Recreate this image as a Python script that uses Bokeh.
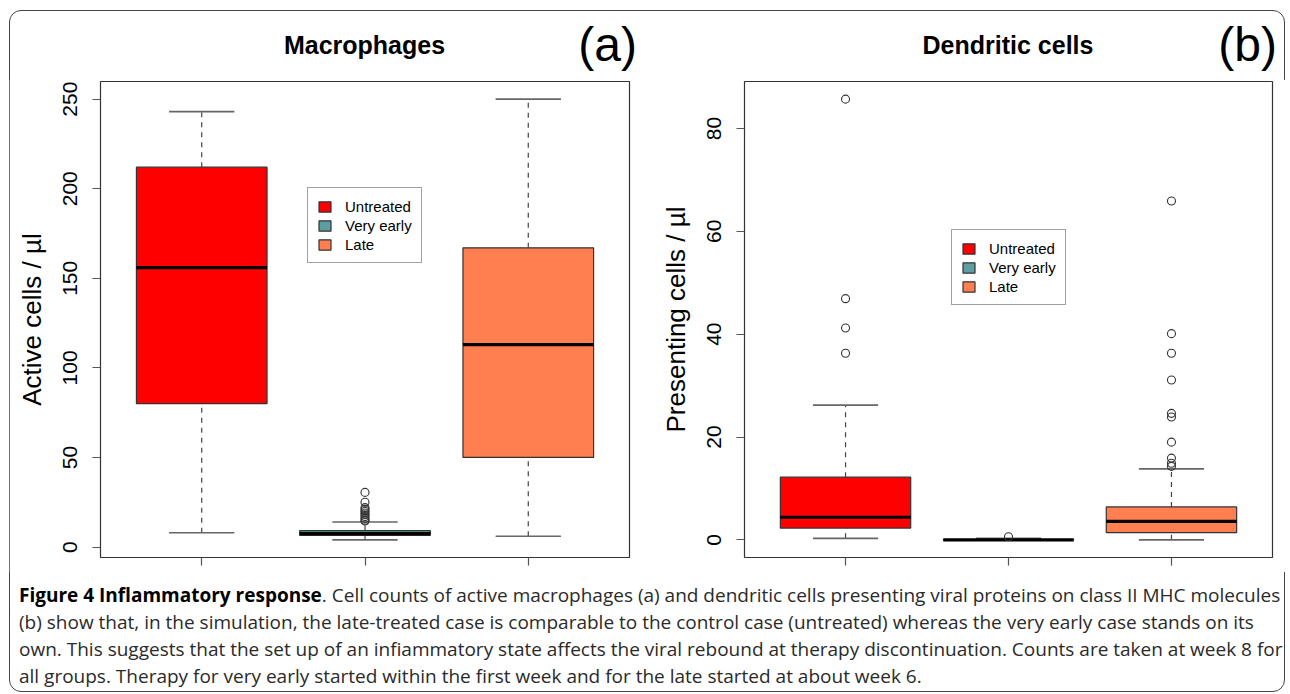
from bokeh.plotting import figure
from bokeh.models import Range1d, Legend, LegendItem, FixedTicker, Div
from bokeh.layouts import row, column
from bokeh.embed import file_html
from bokeh.resources import INLINE

groups = ["Untreated", "Very early", "Late"]
box_colors = ["#FF0000", "#5F9EA0", "#FF7F50"]

# Panel (a): Macrophages - active cells / µl
mac_low = [8, 4, 6]
mac_q1 = [80, 6.5, 50]
mac_median = [156, 7.5, 113]
mac_q3 = [212, 9.2, 167]
mac_high = [243, 14, 250]
mac_out_untreated = []
mac_out_very_early = [14.5, 15, 16, 17, 18, 19, 20, 21, 22, 25, 30.5]
mac_out_late = []
mac_ticks = [0, 50, 100, 150, 200, 250]

# Panel (b): Dendritic cells - presenting cells / µl
dc_low = [0.3, 0, 0]
dc_q1 = [2.3, 0, 1.4]
dc_median = [4.4, 0, 3.6]
dc_q3 = [12.2, 0.05, 6.4]
dc_high = [26.2, 0.3, 13.8]
dc_out_untreated = [85.7, 46.9, 41.2, 36.3]
dc_out_very_early = [0.6]
dc_out_late = [65.9, 40.1, 36.3, 31.1, 24.6, 23.9, 19, 15.9, 14.9, 14.3]
dc_ticks = [0, 20, 40, 60, 80]

panel_titles = ["Macrophages", "Dendritic cells"]
panel_tags = ["(a)", "(b)"]

caption_lines = [
    "Cell counts of active macrophages (a) and dendritic cells presenting viral proteins on class II MHC molecules",
    "(b) show that, in the simulation, the late-treated case is comparable to the control case (untreated) whereas the very early case stands on its",
    "own. This suggests that the set up of an infiammatory state affects the viral rebound at therapy discontinuation. Counts are taken at week 8 for",
    "all groups. Therapy for very early started within the first week and for the late started at about week 6.",
]

FONT = "Liberation Sans"
BOX_H = 476
LEFT_B = 91


def panel(ylabel, low, q1, med, q3, high, outliers, ticks,
          box_w, border_right, legend_xy):
    n = len(groups)
    xs = list(range(1, n + 1))
    allv = low + high + [v for o in outliers for v in o]
    lo, hi = min(allv), max(allv)
    pad = 0.04 * (hi - lo)
    y0, y1 = lo - pad, hi + pad
    x0, x1 = 0.5 - 0.04 * n, n + 0.5 + 0.04 * n

    p = figure(frame_width=box_w, frame_height=BOX_H,
               x_range=Range1d(x0, x1), y_range=Range1d(y0, y1),
               output_backend="svg", toolbar_location=None,
               min_border_left=LEFT_B, min_border_right=border_right,
               min_border_top=2, min_border_bottom=15,
               outline_line_color="#333333", outline_line_width=1.2,
               background_fill_color="white", border_fill_color="white")
    p.xgrid.visible = False
    p.ygrid.visible = False

    # whiskers
    p.segment(x0=xs, y0=q3, x1=xs, y1=high, line_color="#444444",
              line_width=1.2, line_dash="5 5")
    p.segment(x0=xs, y0=low, x1=xs, y1=q1, line_color="#444444",
              line_width=1.2, line_dash="5 5")
    # staples
    p.segment(x0=[x - 0.2 for x in xs], y0=high, x1=[x + 0.2 for x in xs], y1=high,
              line_color="#666666", line_width=1.6)
    p.segment(x0=[x - 0.2 for x in xs], y0=low, x1=[x + 0.2 for x in xs], y1=low,
              line_color="#666666", line_width=1.6)
    # boxes
    boxes = p.quad(left=[x - 0.4 for x in xs], right=[x + 0.4 for x in xs],
                   bottom=q1, top=q3, fill_color=box_colors,
                   line_color="#333333", line_width=1.2)
    # medians
    p.segment(x0=[x - 0.4 for x in xs], y0=med, x1=[x + 0.4 for x in xs], y1=med,
              line_color="black", line_width=3.2)
    # outliers
    ox = [x for x, o in zip(xs, outliers) for _ in o]
    oy = [v for o in outliers for v in o]
    p.scatter(x=ox, y=oy, marker="circle", size=8, fill_color=None,
              line_color="#333333", line_width=1.1)

    # axes
    p.xaxis.ticker = FixedTicker(ticks=xs)
    p.xaxis.major_label_overrides = {x: "" for x in xs}
    p.xaxis.major_label_standoff = 0
    p.yaxis.ticker = FixedTicker(ticks=ticks)
    for ax in (p.xaxis[0], p.yaxis[0]):
        ax.axis_line_color = None
        ax.major_tick_line_color = "#555555"
        ax.major_tick_line_width = 1.2
        ax.major_tick_out = 8
        ax.major_tick_in = 0
        ax.minor_tick_line_color = None
    p.yaxis.major_label_orientation = "vertical"
    p.yaxis.major_label_text_font = FONT
    p.yaxis.major_label_text_font_size = "21px"
    p.yaxis.major_label_text_color = "black"
    p.yaxis.major_label_standoff = 15
    p.yaxis.axis_label = ylabel
    p.yaxis.axis_label_text_font = FONT
    p.yaxis.axis_label_text_font_size = "26px"
    p.yaxis.axis_label_text_font_style = "normal"
    p.yaxis.axis_label_text_color = "black"
    p.yaxis.axis_label_standoff = 14

    # legend
    items = [LegendItem(label=g, renderers=[boxes], index=i) for i, g in enumerate(groups)]
    legend = Legend(items=items, location=legend_xy,
                    label_text_font=FONT, label_text_font_size="15px",
                    label_text_color="black",
                    glyph_width=15, glyph_height=13, label_height=18,
                    label_standoff=13, spacing=1, padding=9, margin=0,
                    border_line_color="#444444", border_line_width=1.2,
                    background_fill_color="white", background_fill_alpha=1)
    p.add_layout(legend)
    return p


left = panel("Active cells / µl",
             mac_low, mac_q1, mac_median, mac_q3, mac_high,
             [mac_out_untreated, mac_out_very_early, mac_out_late], mac_ticks,
             box_w=529, border_right=24, legend_xy=(207, 294))
right = panel("Presenting cells / µl",
              dc_low, dc_q1, dc_median, dc_q3, dc_high,
              [dc_out_untreated, dc_out_very_early, dc_out_late], dc_ticks,
              box_w=528, border_right=13, legend_xy=(207, 252))

# header with the panel titles and tags, aligned to the two plot boxes
left_box = (LEFT_B, 529)
right_box = (LEFT_B + 529 + 24 + LEFT_B, 528)
tag_extra = [8, 5]
spans = []
for (bx, bw), t, tag, ex in zip([left_box, right_box], panel_titles, panel_tags, tag_extra):
    spans.append(
        f"<div style='position:absolute;left:{bx}px;width:{bw}px;top:20px;"
        f"line-height:30px;text-align:center;font-family:\"{FONT}\";"
        f"font-weight:bold;font-size:25px;color:#000'>{t}</div>")
    spans.append(
        f"<div style='position:absolute;left:{bx}px;width:{bw + ex}px;top:7px;"
        f"line-height:56px;text-align:right;font-family:\"{FONT}\";"
        f"font-size:48px;color:#000'>{tag}</div>")
header = Div(text="<div style='position:relative;width:1276px;height:69px'>"
             + "".join(spans) + "</div>",
             width=1276, height=69, margin=0)

caption_html = ("<b style='color:#000'>Figure 4 Inflammatory response</b>. "
                + caption_lines[0] + "<br>" + "<br>".join(caption_lines[1:]))
caption = Div(text=caption_html, width=1266, margin=(10, 0, 2, 10),
              styles={"font-family": "'Open Sans', sans-serif",
                      "font-size": "19px", "line-height": "27px",
                      "color": "#2a2a2a", "white-space": "nowrap"})

layout = column(header, row(left, right), caption, margin=(10, 0, 0, 9),
                styles={"outline": "1.5px solid #444444",
                        "outline-offset": "-1px",
                        "border-radius": "12px"})

open("out.html", "w").write(file_html(layout, INLINE))
